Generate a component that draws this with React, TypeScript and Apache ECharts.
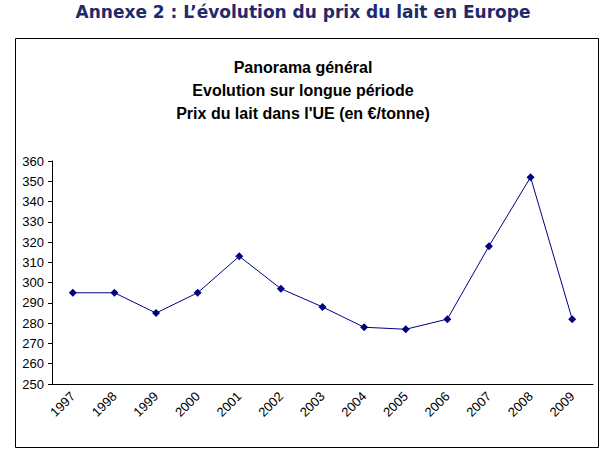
import React, { useEffect, useRef } from "react";
import * as echarts from "echarts";

const years = ["1997", "1998", "1999", "2000", "2001", "2002", "2003", "2004", "2005", "2006", "2007", "2008", "2009"];
const prices = [295, 295, 285, 295, 313, 297, 288, 278, 277, 282, 318, 352, 282];
const titleLines = ["Panorama général", "Evolution sur longue période", "Prix du lait dans l'UE (en €/tonne)"];

export default function App() {
  const ref = useRef<HTMLDivElement>(null);

  useEffect(() => {
    if (!ref.current) return;
    const chart = echarts.init(ref.current, null, { renderer: "svg" });
    chart.setOption({
      animation: false,
      backgroundColor: "#fff",
      textStyle: { fontFamily: "Liberation Sans, Arial, sans-serif" },
      graphic: [
        {
          type: "text", left: "center", top: 3,
          style: { text: "Annexe 2 : L’évolution du prix du lait en Europe", fill: "#1f2a6b", font: "bold 17px 'DejaVu Sans', Verdana, sans-serif" },
        },
        {
          type: "rect", shape: { x: 15.5, y: 38.5, width: 583, height: 409 },
          style: { fill: "none", stroke: "#000", lineWidth: 1 },
        },
        ...titleLines.map((t, i) => ({
          type: "text", left: "center", top: 59 + i * 23,
          style: { text: t, fill: "#000", font: "bold 16px 'Liberation Sans', Arial, sans-serif" },
        })),
      ],
      grid: { left: 52, right: 13, top: 161, bottom: 68, containLabel: false },
      xAxis: {
        type: "category", data: years, boundaryGap: true,
        axisLine: { lineStyle: { color: "#000" } },
        axisTick: { alignWithLabel: false, length: 4, lineStyle: { color: "#000" } },
        axisLabel: { rotate: 45, color: "#000", fontSize: 13, interval: 0, margin: 10 },
      },
      yAxis: {
        type: "value", min: 250, max: 360, interval: 10,
        axisLine: { show: true, lineStyle: { color: "#000" } },
        axisTick: { show: true, length: 4, lineStyle: { color: "#000" } },
        axisLabel: { color: "#000", fontSize: 13, margin: 8 },
        splitLine: { show: false },
      },
      series: [
        {
          type: "line", data: prices, symbol: "diamond", symbolSize: 8,
          lineStyle: { color: "#000080", width: 1 },
          itemStyle: { color: "#000080" },
        },
      ],
    });
    return () => chart.dispose();
  }, []);

  return <div ref={ref} style={{ position: "absolute", left: 0, top: 0, width: 606, height: 452 }} />;
}
